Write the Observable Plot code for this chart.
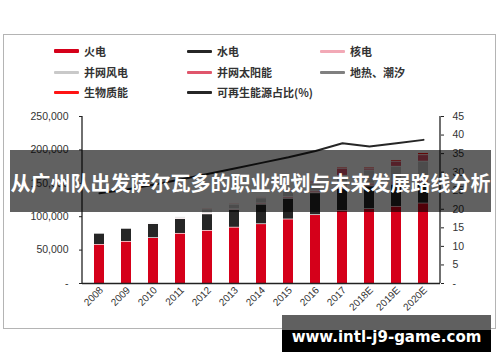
<!DOCTYPE html>
<html><head><meta charset="utf-8">
<script src="https://cdn.jsdelivr.net/npm/d3@7"></script>
<script src="https://cdn.jsdelivr.net/npm/@observablehq/plot@0.6"></script>
<style>
body{margin:0;background:#fff;}
#wrap{position:relative;width:500px;height:362px;overflow:hidden;font-family:"Liberation Sans",Arial,sans-serif;}
#frame{position:absolute;left:3px;top:34px;width:493px;height:295px;border:1px solid #b4b4b4;box-sizing:border-box;}
#plot{position:absolute;left:0;top:0;}
.lg{position:absolute;display:flex;align-items:center;font-family:"Noto Sans CJK SC",sans-serif;font-size:11px;font-weight:bold;color:#333;white-space:nowrap;height:14px;}
.lg i{display:inline-block;width:25px;margin-right:5px;border-radius:1px;}
#banner{position:absolute;left:10px;top:150px;width:481px;height:62px;background:rgba(0,0,0,0.62);color:#fff;display:flex;align-items:center;justify-content:center;font-family:"Noto Sans CJK SC",sans-serif;font-weight:bold;font-size:20px;padding-top:2px;box-sizing:border-box;}
#wm{position:absolute;left:282px;top:315px;width:209px;height:37px;background:linear-gradient(#606060 0,#606060 15px,#000 15px,#000 100%);color:#fff;display:flex;align-items:center;justify-content:center;font-family:"DejaVu Sans",sans-serif;font-weight:bold;font-size:15px;padding-top:7px;box-sizing:border-box;}
</style></head><body><div id="wrap"><div id="frame"></div></div>
<script>
const years = ["2008","2009","2010","2011","2012","2013","2014","2015","2016","2017","2018E","2019E","2020E"];
const seriesNames = ["火电","水电","核电","并网风电","并网太阳能","地热、潮汐","生物质能"];
const thermal  = [58400, 62900, 68400, 74900, 79300, 84100, 89200, 96300, 102800, 109300, 111800, 115300, 120200];
const hydro    = [16500, 19400, 21000, 22000, 24700, 26200, 29100, 30900, 32700, 32900, 34000, 33000, 31000];
const nuclear  = [900, 900, 1100, 1300, 1300, 1500, 2000, 2700, 3400, 3600, 4400, 5000, 5800];
const wind     = [400, 800, 1200, 1800, 6000, 6500, 7500, 9000, 10500, 16000, 19500, 22000, 26000];
const solar    = [0, 0, 30, 200, 300, 600, 800, 1200, 2000, 10500, 2600, 7500, 9500];
const geo      = [0, 0, 0, 0, 30, 30, 30, 30, 30, 100, 100, 200, 300];
const biomass  = [200, 300, 300, 400, 1200, 1200, 1200, 1300, 1500, 1700, 1700, 2200, 2900];
const renewableShare = [24.3, 25.3, 26.6, 28.0, 29.5, 31.0, 32.5, 34.0, 35.7, 37.8, 36.9, 37.8, 38.7];
const lineName = "可再生能源占比(%)";
const leftTicks = [0, 50000, 100000, 150000, 200000, 250000];
const rightTicks = [0, 5, 10, 15, 20, 25, 30, 35, 40, 45];
const titleText = "从广州队出发萨尔瓦多的职业规划与未来发展路线分析";
const watermarkText = "www.intl-j9-game.com";

const seriesValues = [thermal, hydro, nuclear, wind, solar, geo, biomass];
const seriesColors = ["#d5001a", "#262626", "#f2a9b6", "#c9c9c9", "#e0566c", "#808080", "#ff1414"];
const lineColor = "#262626";
const leftMax = leftTicks[leftTicks.length - 1];
const rightMax = rightTicks[rightTicks.length - 1];
const toLeft = v => v * leftMax / rightMax;

const rows = [];
years.forEach((y, i) => seriesNames.forEach((s, k) => rows.push({year: y, series: s, value: seriesValues[k][i]})));
const shareRows = years.map((y, i) => ({year: y, pct: renewableShare[i]}));

const plot = Plot.plot({
  width: 500, height: 362,
  marginLeft: 82, marginRight: 60, marginTop: 116, marginBottom: 79,
  style: {fontFamily: "'Liberation Sans', Arial, sans-serif", fontSize: "10.5px", color: "#333", background: "transparent"},
  x: {domain: years, paddingInner: 0.62, paddingOuter: 0.31, axis: null},
  y: {domain: [0, leftMax], axis: null},
  color: {domain: seriesNames, range: seriesColors},
  marks: [
    Plot.barY(rows, {x: "year", y: "value", fill: "series", insetTop: 0.7}),
    Plot.line(shareRows, {x: "year", y: d => toLeft(d.pct), stroke: lineColor, strokeWidth: 2}),
    Plot.ruleY([0], {stroke: "#222", strokeWidth: 1.3}),
    Plot.axisY({anchor: "left", ticks: leftTicks, tickFormat: d => d === 0 ? "-" : d3.format(",")(d), tickSize: 3, tickPadding: 11, label: null, stroke: "#222"}),
    Plot.axisY({anchor: "right", ticks: rightTicks.map(toLeft), tickFormat: d => { const v = Math.round(d * rightMax / leftMax); return v === 0 ? "-" : String(v); }, tickSize: 3, tickPadding: 9, label: null, stroke: "#222"}),
    Plot.axisX({tickRotate: -45, tickSize: 0, tickPadding: 5, label: null, fontSize: 10, dx: 2})
  ]
});
plot.id = "plot";
// axis lines derived from the scales
const xs = plot.scale("x"), ys = plot.scale("y");
const sel = d3.select(plot);
const yTop = ys.apply(leftMax), yBot = ys.apply(0);
[xs.range[0], xs.range[1]].forEach(xx => {
  sel.append("line").attr("x1", xx).attr("x2", xx).attr("y1", yTop).attr("y2", yBot).attr("stroke", "#222").attr("stroke-width", 1.3);
});
const wrap = document.getElementById("wrap");
wrap.appendChild(plot);

// legend
const legendItems = seriesNames.map((s, k) => ({name: s, color: seriesColors[k], h: k === 0 ? 4 : 3}));
legendItems.push({name: lineName, color: lineColor, h: 3});
const colX = [54, 187, 320], rowY = [44, 65, 85];
legendItems.forEach((it, i) => {
  const d = document.createElement("div");
  d.className = "lg";
  d.style.left = colX[i % 3] + "px";
  d.style.top = rowY[Math.floor(i / 3)] + "px";
  d.innerHTML = `<i style="height:${it.h}px;background:${it.color}"></i><span></span>`;
  d.querySelector("span").textContent = it.name;
  wrap.appendChild(d);
});
const banner = document.createElement("div");
banner.id = "banner"; banner.textContent = titleText; wrap.appendChild(banner);
const wm = document.createElement("div");
wm.id = "wm"; wm.textContent = watermarkText; wrap.appendChild(wm);
</script></body></html>
